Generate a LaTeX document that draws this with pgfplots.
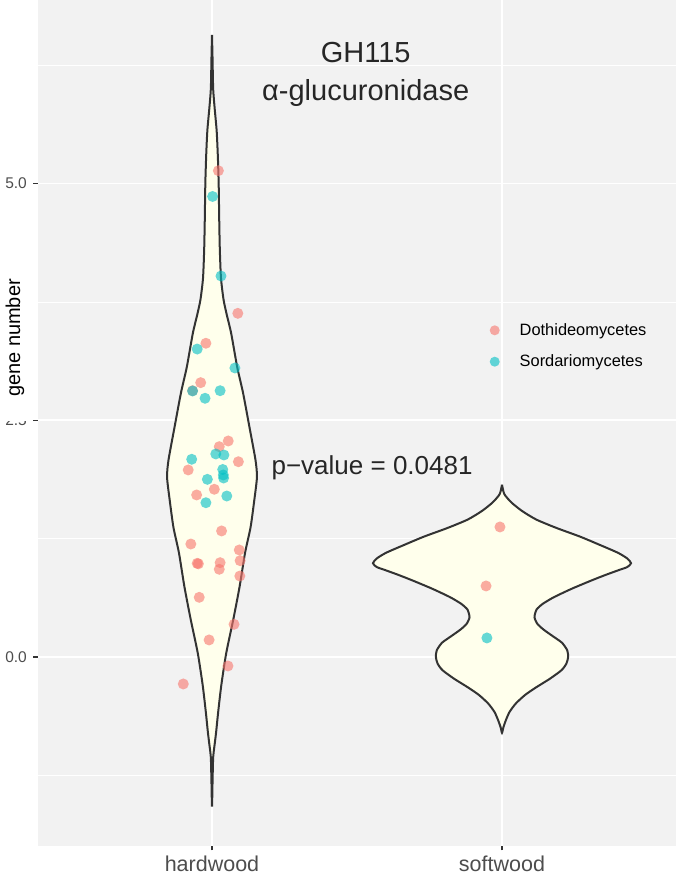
\documentclass[border=0pt]{standalone}
\usepackage{pgfplots}
\pgfplotsset{compat=1.18}
\usepackage{fontspec}
\setmainfont{Liberation Sans}

\definecolor{panelbg}{RGB}{242,242,242}
\definecolor{violinfill}{RGB}{255,255,236}
\definecolor{outline}{RGB}{51,51,51}
\definecolor{dothi}{HTML}{F8766D}
\definecolor{sorda}{HTML}{00BFC4}
\definecolor{ticktext}{RGB}{77,77,77}

\begin{document}
\begin{tikzpicture}
\begin{axis}[
  scale only axis, width=638bp, height=846bp,
  xmin=0.4, xmax=2.6, ymin=-1.996, ymax=6.938,
  axis background/.style={fill=panelbg},
  axis line style={draw=none},
  xtick={1,2}, xticklabels={hardwood,softwood},
  ytick={0,2.5,5}, yticklabels={0.0,2.5,5.0},
  minor ytick={-1.25,1.25,3.75,6.25},
  xtick pos=bottom, ytick pos=left,
  grid=both,
  major grid style={white, line width=1.5bp},
  minor grid style={white, line width=0.75bp},
  tick align=outside, major tick length=4.5bp, minor tick length=0bp,
  tick style={color=outline, line width=1.1bp},
  xticklabel style={anchor=base, inner sep=0pt, yshift=-20.5bp, text=ticktext,
    font=\fontsize{21.5bp}{24bp}\selectfont},
  yticklabel style={anchor=east, inner sep=0pt, xshift=-6.5bp, text=ticktext,
    font=\fontsize{15.5bp}{18bp}\selectfont},
  legend style={draw=none, fill=none, inner sep=0pt,
    at={(axis cs:1.957,3.284)}, anchor=west,
    font=\fontsize{16.4bp}{19bp}\selectfont, row sep=14bp, column sep=18bp},
  legend cell align=left,
  legend image code/.code={\fill[#1, draw=none, fill opacity=0.6] (0bp,0bp) circle (5bp);},
]

% violin outlines (kernel density, mirrored)
\addplot[draw=outline, line width=2bp, fill=violinfill, smooth, tension=0.4, forget plot]
coordinates {
(1.000,6.57) (1.002,6.3) (1.004,6.0) (1.009,5.8) (1.016,5.56) (1.020,5.3)
(1.023,5.0) (1.025,4.6) (1.027,4.3) (1.031,4.0) (1.040,3.77) (1.052,3.6)
(1.066,3.42) (1.087,3.06) (1.107,2.79) (1.129,2.43) (1.150,2.08) (1.155,1.90)
(1.146,1.66) (1.133,1.37) (1.114,1.10) (1.095,0.74) (1.073,0.39) (1.049,0.04)
(1.032,-0.30) (1.021,-0.59) (1.014,-0.80) (1.008,-0.95) (1.004,-1.06) (1.002,-1.3)
(1.000,-1.58)
(0.998,-1.3) (0.996,-1.06) (0.992,-0.95) (0.986,-0.80) (0.979,-0.59) (0.968,-0.30)
(0.951,0.04) (0.927,0.39) (0.905,0.74) (0.886,1.10) (0.867,1.37) (0.854,1.66)
(0.845,1.90) (0.850,2.08) (0.871,2.43) (0.893,2.79) (0.913,3.06) (0.934,3.42)
(0.948,3.6) (0.960,3.77) (0.969,4.0) (0.973,4.3) (0.975,4.6) (0.977,5.0)
(0.980,5.3) (0.984,5.56) (0.991,5.8) (0.996,6.0) (0.998,6.3) (1.000,6.57)
};

\addplot[draw=outline, line width=2bp, fill=violinfill, smooth, tension=0.4, forget plot]
coordinates {
(2.000,1.82) (2.008,1.72) (2.033,1.63) (2.070,1.54) (2.119,1.45) (2.190,1.36)
(2.270,1.27) (2.340,1.18) (2.400,1.10) (2.432,1.04) (2.445,0.99) (2.432,0.95)
(2.405,0.92) (2.360,0.87) (2.310,0.81) (2.240,0.72) (2.178,0.63) (2.140,0.56)
(2.119,0.50) (2.112,0.42) (2.122,0.35) (2.143,0.29) (2.175,0.22) (2.207,0.15)
(2.225,0.07) (2.228,0.00) (2.222,-0.07) (2.205,-0.14) (2.165,-0.23) (2.118,-0.32)
(2.080,-0.40) (2.048,-0.49) (2.026,-0.58) (2.013,-0.67) (2.005,-0.74) (2.000,-0.80)
(1.995,-0.74) (1.987,-0.67) (1.974,-0.58) (1.952,-0.49) (1.920,-0.40) (1.882,-0.32)
(1.835,-0.23) (1.795,-0.14) (1.778,-0.07) (1.772,0.00) (1.775,0.07) (1.793,0.15)
(1.825,0.22) (1.857,0.29) (1.878,0.35) (1.888,0.42) (1.881,0.50) (1.860,0.56)
(1.822,0.63) (1.760,0.72) (1.690,0.81) (1.640,0.87) (1.595,0.92) (1.568,0.95)
(1.555,0.99) (1.568,1.04) (1.600,1.10) (1.660,1.18) (1.730,1.27) (1.810,1.36)
(1.881,1.45) (1.930,1.54) (1.967,1.63) (1.992,1.72) (2.000,1.82)
};

% jittered observations
\addplot[only marks, mark=*, mark size=5.5bp, color=dothi,
  mark options={draw opacity=0, fill=dothi, fill opacity=0.6}]
coordinates {
(1.022,5.135) (1.089,3.629) (0.979,3.313) (0.961,2.897) (0.933,2.812)
(1.056,2.281) (1.025,2.221) (1.091,2.062) (0.918,1.975) (1.008,1.771)
(0.947,1.711) (1.033,1.331) (0.927,1.193) (1.094,1.130) (0.949,0.989)
(0.953,0.984) (1.028,0.996) (1.025,0.926) (1.097,1.017) (1.096,0.855)
(0.956,0.630) (1.076,0.345) (0.990,0.180) (1.055,-0.095) (0.901,-0.285)
(1.993,1.373) (1.945,0.750)
};
\addlegendentry{Dothideomycetes}

\addplot[only marks, mark=*, mark size=5.5bp, color=sorda,
  mark options={draw opacity=0, fill=sorda, fill opacity=0.6}]
coordinates {
(1.002,4.863) (1.031,4.023) (0.949,3.252) (1.079,3.052) (0.933,2.809)
(0.976,2.732) (1.028,2.812) (1.013,2.144) (1.041,2.133) (0.930,2.088)
(1.037,1.980) (1.039,1.922) (1.040,1.890) (0.984,1.876) (1.051,1.700)
(0.979,1.629)
(1.948,0.201)
};
\addlegendentry{Sordariomycetes}

\node[anchor=base, text=black!85, font=\fontsize{29bp}{32bp}\selectfont]
  at (axis cs:1.53,6.283) {GH115};
\node[anchor=base, text=black!85, font=\fontsize{29bp}{32bp}\selectfont]
  at (axis cs:1.53,5.88) {α-glucuronidase};
\node[anchor=base, text=black!85, font=\fontsize{26bp}{30bp}\selectfont]
  at (axis cs:1.552,1.93) {p−value = 0.0481};
\end{axis}

% axis title over the tick-label column
\fill[white] (-37bp,425bp) rectangle (-9bp,576bp);
\node[rotate=90, inner sep=0pt, font=\fontsize{20bp}{24bp}\selectfont]
  at (-23bp,508bp) {gene number};

\pgfresetboundingbox
\path[use as bounding box] (-38bp,-28bp) rectangle (640bp,846bp);
\end{tikzpicture}
\end{document}
